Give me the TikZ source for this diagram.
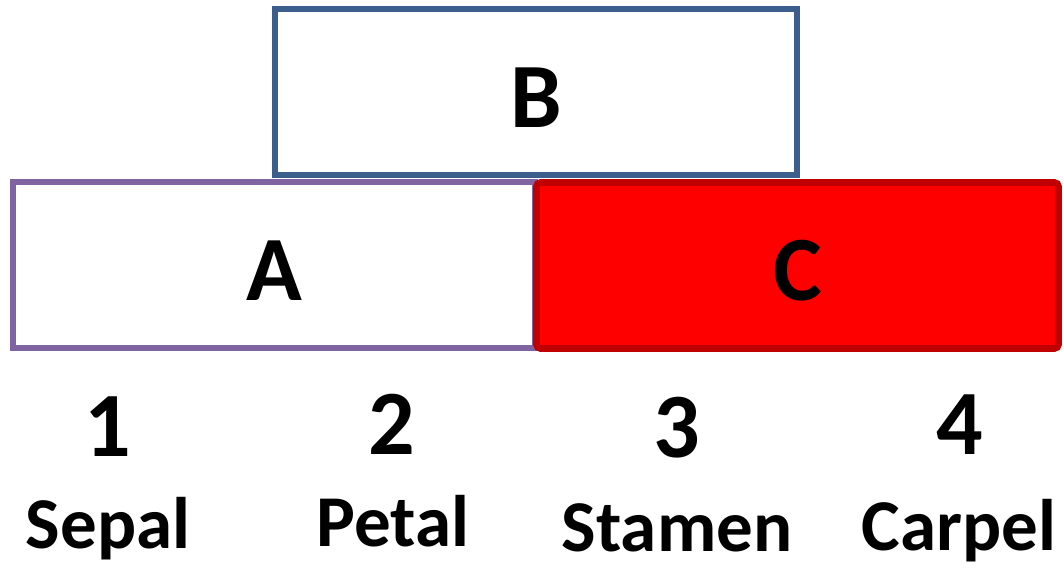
\documentclass[tikz,border=0pt]{standalone}
\usepackage{fontspec}
\setmainfont{Carlito}
\usetikzlibrary{positioning}

\definecolor{bborder}{HTML}{3B5E8C}
\definecolor{aborder}{HTML}{8064A2}
\definecolor{cborder}{HTML}{C00000}
\definecolor{cfill}{HTML}{FF0000}

\begin{document}
\begin{tikzpicture}[
    x=0.5pt, y=-0.5pt,
    genebox/.style={
        draw,
        fill=white,
        line width=3.3pt,
        minimum width=261pt,
        minimum height=83pt,
        inner sep=0pt,
        text height=35pt,
        font=\fontsize{46}{46}\selectfont\bfseries
    },
    whorlnum/.style={
        inner sep=0pt,
        font=\fontsize{46}{46}\selectfont\bfseries
    },
    organ/.style={
        inner sep=0pt,
        anchor=base,
        font=\fontsize{36.5}{36.5}\selectfont\bfseries
    }
]
    \useasboundingbox (0,0) rectangle (1064,567);

    \node[genebox, draw=bborder] (B) at (536,92) {B};
    \node[genebox, draw=aborder] (A) at (274,265) {A};
    \node[genebox, draw=cborder, fill=cfill, rounded corners=2pt] (C) at (797.5,265.5) {C};

    \node[whorlnum] (n1) at (108,427) {1};
    \node[whorlnum] (n2) at (392,424) {2};
    \node[whorlnum] (n3) at (677,428) {3};
    \node[whorlnum] (n4) at (960,425) {4};

    \node[organ] (sepal)  at (108,548) {Sepal};
    \node[organ] (petal)  at (393,546) {Petal};
    \node[organ] (stamen) at (677,551) {Stamen};
    \node[organ] (carpel) at (959,550) {Carpel};

\end{tikzpicture}
\end{document}
